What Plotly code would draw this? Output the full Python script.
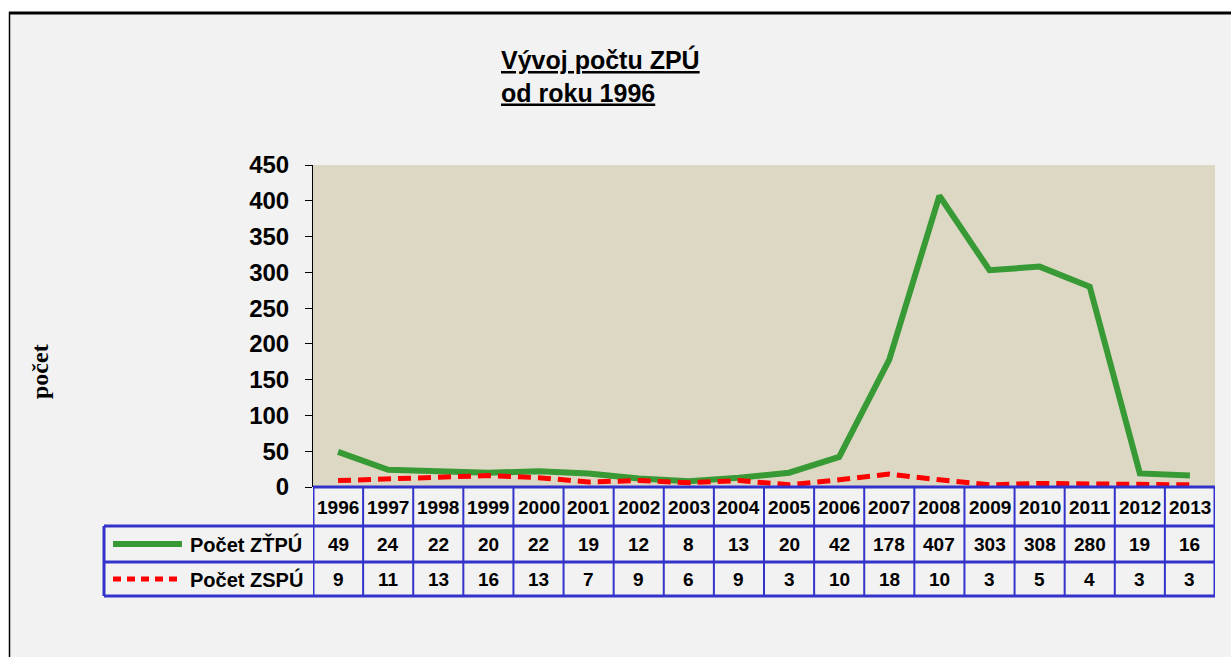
import plotly.graph_objects as go

years = [str(y) for y in range(1996, 2014)]
ztpu = [49, 24, 22, 20, 22, 19, 12, 8, 13, 20, 42, 178, 407, 303, 308, 280, 19, 16]
zspu = [9, 11, 13, 16, 13, 7, 9, 6, 9, 3, 10, 18, 10, 3, 5, 4, 3, 3]
series_names = ["Počet ZŤPÚ", "Počet ZSPÚ"]
y_ticks = [0, 50, 100, 150, 200, 250, 300, 350, 400, 450]

W, H = 1231, 657
L, R, T, B = 313, 1215, 165, 487
pw, ph = R - L, B - T

def px(x):
    return (x - L) / pw

def py(y):
    return (B - y) / ph

GREEN = "#379a35"
RED = "#ff0000"
BLUE = "#3333cc"
FONT = "Liberation Sans, Arial, sans-serif"

xs = list(range(len(years)))
fig = go.Figure()
fig.add_trace(go.Scatter(x=xs, y=ztpu, mode="lines", name=series_names[0],
                         line=dict(color=GREEN, width=6)))
fig.add_trace(go.Scatter(x=xs, y=zspu, mode="lines", name=series_names[1],
                         line=dict(color=RED, width=5, dash="13px,7px")))

shapes = []
# outside white + frame
shapes.append(dict(type="rect", xref="paper", yref="paper", x0=px(0), x1=px(W), y0=py(0), y1=py(12),
                   fillcolor="white", line=dict(width=0), layer="above"))
shapes.append(dict(type="rect", xref="paper", yref="paper", x0=px(0), x1=px(9), y0=py(0), y1=py(H),
                   fillcolor="white", line=dict(width=0), layer="above"))
shapes.append(dict(type="line", xref="paper", yref="paper", x0=px(9), x1=px(W), y0=py(13), y1=py(13),
                   line=dict(color="black", width=3)))
shapes.append(dict(type="line", xref="paper", yref="paper", x0=px(9.5), x1=px(9.5), y0=py(12), y1=py(H),
                   line=dict(color="black", width=1.5)))

# table
y_top, y_h1, y_h2, y_bot = 487, 526, 562, 596
x_lab = 104
n = len(years)
shapes.append(dict(type="line", xref="paper", yref="paper", x0=px(L), x1=px(R), y0=py(y_top), y1=py(y_top),
                   line=dict(color=BLUE, width=3)))
for yy in (y_h1, y_h2, y_bot):
    shapes.append(dict(type="line", xref="paper", yref="paper", x0=px(x_lab), x1=px(R), y0=py(yy), y1=py(yy),
                       line=dict(color=BLUE, width=3)))
shapes.append(dict(type="line", xref="paper", yref="paper", x0=px(x_lab), x1=px(x_lab), y0=py(y_h1), y1=py(y_bot),
                   line=dict(color=BLUE, width=3)))
for i in range(n + 1):
    outer = i == 0 or i == n
    shapes.append(dict(type="line", xref="x", yref="paper", x0=i - 0.5, x1=i - 0.5, y0=py(y_top), y1=py(y_bot),
                       line=dict(color=BLUE, width=3 if outer else 2)))
# legend samples
shapes.append(dict(type="line", xref="paper", yref="paper", x0=px(113), x1=px(182), y0=py(544), y1=py(544),
                   line=dict(color=GREEN, width=6)))
shapes.append(dict(type="line", xref="paper", yref="paper", x0=px(113), x1=px(182), y0=py(579), y1=py(579),
                   line=dict(color=RED, width=5, dash="8px,6px")))

ann = []
cell_font = dict(family=FONT, size=19, color="black", weight="bold")
for i, yr in enumerate(years):
    ann.append(dict(x=i, y=py((y_top + y_h1) / 2 + 1), xref="x", yref="paper", text=yr, showarrow=False,
                    font=dict(family=FONT, size=19, color="black", weight="bold"), xanchor="center", yanchor="middle"))
    ann.append(dict(x=i, y=py((y_h1 + y_h2) / 2), xref="x", yref="paper", text=str(ztpu[i]), showarrow=False,
                    font=cell_font, xanchor="center", yanchor="middle"))
    ann.append(dict(x=i, y=py((y_h2 + y_bot) / 2), xref="x", yref="paper", text=str(zspu[i]), showarrow=False,
                    font=cell_font, xanchor="center", yanchor="middle"))
ann.append(dict(x=px(188), y=py(544), xref="paper", yref="paper", text=series_names[0], showarrow=False,
                font=dict(family=FONT, size=20, color="black", weight="bold"), xanchor="left", yanchor="middle"))
ann.append(dict(x=px(188), y=py(579), xref="paper", yref="paper", text=series_names[1], showarrow=False,
                font=dict(family=FONT, size=20, color="black", weight="bold"), xanchor="left", yanchor="middle"))
# title
ann.append(dict(x=px(499), y=py(76), xref="paper", yref="paper",
                text="<u>Vývoj počtu ZPÚ</u><br><u>od roku 1996</u>", showarrow=False, align="left",
                font=dict(family=FONT, size=25, color="black", weight="bold"), xanchor="left", yanchor="middle"))
# y label
ann.append(dict(x=px(40), y=py(372), xref="paper", yref="paper", text="počet", showarrow=False, textangle=-90,
                font=dict(family="Liberation Serif, Times New Roman, serif", size=24, color="black", weight="bold"),
                xanchor="center", yanchor="middle"))

fig.update_layout(
    width=W, height=H,
    margin=dict(l=L, r=W - R, t=T, b=H - B, pad=0),
    paper_bgcolor="#f2f2f2",
    plot_bgcolor="#ddd8c4",
    showlegend=False,
    shapes=shapes,
    annotations=ann,
    xaxis=dict(range=[-0.5, n - 0.5], showticklabels=False, showgrid=False, zeroline=False,
               showline=False, ticks=""),
    yaxis=dict(range=[0, 450], tickvals=y_ticks, showgrid=False, zeroline=False, showline=True,
               linecolor="black", linewidth=1, ticks="outside", ticklen=7, tickcolor="black",
               ticklabelstandoff=11,
               tickfont=dict(family=FONT, size=24, color="black", weight="bold")),
)
fig.write_html("out.html", config={"displayModeBar": False},
               post_script="document.body.style.margin='0';document.body.style.overflow='hidden';")
